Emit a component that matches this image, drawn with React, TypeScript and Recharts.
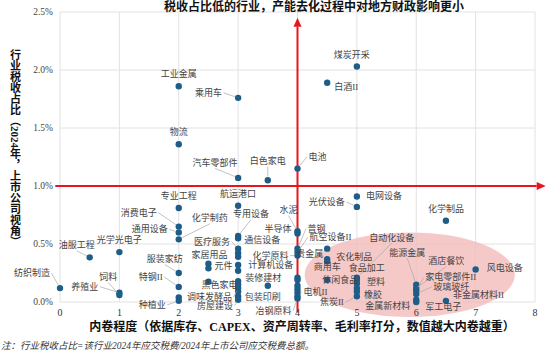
import React from 'react';
import { ScatterChart, Scatter, XAxis, YAxis, CartesianGrid, ReferenceLine, ReferenceArea } from 'recharts';

const industries = [
  '煤炭开采', '白酒II', '工业金属', '乘用车', '物流', '电池', '汽车零部件', '白色家电', '电网设备', '航运港口',
  '光伏设备', '专业工程', '化学制品', '消费电子', '水泥', '通用设备', '半导体', '专用设备', '通信设备', '化学制药',
  '医疗服务', '普钢', '贵金属', '航空设备II', '光学光电子', '化学原料', '', '', '油服工程', '农化制品',
  '商用车', '家居用品', '计算机设备', '元件', '', '风电设备', '服装家纺', '', '自动化设备', '',
  '休闲食品', '食品加工', '装修建材', '黑色家电', '塑料', '', '能源金属', '包装印刷', '', '特钢II',
  '调味发酵品', '纺织制造', '酒店餐饮', '', '电机II', '家电零部件II', '橡胶', '', '', '养殖业',
  '玻璃玻纤', '饲料', '焦炭II', '', '', '', '冶钢原料', '房屋建设', '军工电子', '种植业',
  '非金属材料II', '金属新材料',
];

const involutionScores = [
  5.0, 4.5, 2.0, 3.0, 2.0, 4.0, 3.0, 3.5, 5.0, 3.0,
  5.0, 2.0, 6.5, 2.0, 4.0, 2.0, 4.0, 3.0, 3.0, 2.0,
  3.0, 4.0, 4.5, 4.0, 1.0, 4.0, 3.0, 3.0, 0.5, 4.5,
  4.5, 2.5, 3.0, 2.5, 3.0, 7.0, 2.0, 4.0, 5.0, 4.0,
  4.5, 5.0, 3.0, 2.5, 5.0, 3.0, 6.0, 3.5, 4.0, 2.0,
  3.0, 0.0, 6.0, 5.0, 4.0, 6.0, 5.0, 3.0, 4.0, 1.0,
  6.0, 1.0, 5.0, 3.0, 4.0, 2.0, 4.0, 3.0, 6.0, 2.0,
  6.5, 6.0,
];

const taxShares = [
  2.03, 1.89, 1.86, 1.76, 1.36, 1.15, 1.07, 1.05, 0.91, 0.83,
  0.82, 0.81, 0.70, 0.65, 0.61, 0.60, 0.59, 0.57, 0.55, 0.54,
  0.46, 0.46, 0.46, 0.43, 0.43, 0.40, 0.42, 0.39, 0.385, 0.37,
  0.35, 0.33, 0.32, 0.29, 0.27, 0.28, 0.25, 0.21, 0.21, 0.19,
  0.19, 0.19, 0.18, 0.175, 0.16, 0.15, 0.15, 0.14, 0.14, 0.13,
  0.12, 0.12, 0.12, 0.12, 0.11, 0.10, 0.09, 0.09, 0.08, 0.08,
  0.07, 0.06, 0.05, 0.05, 0.05, 0.04, 0.03, 0.02, 0.02, 0.01,
  0.01, 0.0,
];

const xTicks = [0, 1, 2, 3, 4, 5, 6, 7, 8];
const yTicks = [0, 0.5, 1.0, 1.5, 2.0, 2.5];

const title = '税收占比低的行业，产能去化过程中对地方财政影响更小';
const yAxisTitle = '行业税收占比（2024年，上市公司视角）';
const xAxisTitle = '内卷程度（依据库存、CAPEX、资产周转率、毛利率打分，数值越大内卷越重）';
const footnote = '注：行业税收占比=该行业2024年应交税费/2024年上市公司应交税费总额。';

// label placement: [anchor, dx, dy, leader]
type Anchor = 'start' | 'middle' | 'end';
const labelLayout: Record<string, [Anchor, number, number, boolean]> = {
  '煤炭开采': ['middle', -5, -12, false],
  '白酒II': ['start', 7, 4, false],
  '工业金属': ['middle', 0, -12, false],
  '乘用车': ['end', -16, -5, true],
  '物流': ['middle', 0, -12, false],
  '电池': ['start', 11, -12, true],
  '汽车零部件': ['middle', -23, -15, true],
  '白色家电': ['middle', 0, -19, true],
  '航运港口': ['middle', 0, -12, false],
  '专业工程': ['middle', 0, -12, false],
  '电网设备': ['start', 9, 0, false],
  '光伏设备': ['end', -12, -5, true],
  '化学制品': ['middle', 0, -12, false],
  '水泥': ['middle', -9, -21, true],
  '半导体': ['end', -6, -5, false],
  '普钢': ['start', 10, -20, true],
  '航空设备II': ['start', 12, -15, true],
  '化学原料': ['end', -9, 0, true],
  '计算机设备': ['start', 10, 0, false],
  '通信设备': ['start', 6, 2, false],
  '专用设备': ['middle', 13, -22, true],
  '医疗服务': ['end', -8, -7, true],
  '家居用品': ['middle', 1, -9, false],
  '元件': ['start', 6, -2, false],
  '黑色家电': ['middle', 11, 3, false],
  '调味发酵品': ['end', -6, 9, true],
  '房屋建设': ['end', -5, 6, true],
  '装修建材': ['start', 7, -3, false],
  '包装印刷': ['middle', -5, 11, false],
  '冶钢原料': ['end', -6, 12, true],
  '种植业': ['end', -13, 4, true],
  '特钢II': ['end', -16, -10, true],
  '服装家纺': ['middle', -14, -14, true],
  '消费电子': ['end', -22, -14, true],
  '通用设备': ['end', -11, -3, true],
  '化学制药': ['middle', 31, -21, true],
  '光学光电子': ['middle', 0, -12, false],
  '油服工程': ['middle', -13, -12, true],
  '纺织制造': ['end', -10, -15, true],
  '养殖业': ['end', -21, -6, true],
  '饲料': ['middle', -11, -18, true],
  '电机II': ['start', 6, 3, true],
  '贵金属': ['end', -4, 5, false],
  '农化制品': ['start', 9, -2, false],
  '商用车': ['middle', 0, 6, false],
  '休闲食品': ['middle', 13, 0, false],
  '焦炭II': ['end', -13, 6, true],
  '自动化设备': ['middle', 35, -40, true],
  '食品加工': ['middle', 10, -12, false],
  '塑料': ['start', 10, -1, false],
  '橡胶': ['start', 7, 3, false],
  '金属新材料': ['end', -6, 4, false],
  '能源金属': ['middle', -9, -32, true],
  '酒店餐饮': ['middle', 30, -27, true],
  '家电零部件II': ['start', 9, -13, true],
  '玻璃玻纤': ['start', 17, -7, true],
  '非金属材料II': ['start', 7, -6, false],
  '军工电子': ['start', 9, 7, false],
  '风电设备': ['start', 11, -2, false],
};

const data = industries.map((name, i) => ({ name, x: involutionScores[i], y: taxShares[i] }));

const FONT = '"Liberation Serif", "Noto Sans CJK SC", serif';
const DOT = '#1d5d88';
const RED = '#e8161c';

const DotShape = (p: any) => {
  if (p.cx == null || p.cy == null) return <g />;
  return <circle cx={p.cx} cy={p.cy} r={3.2} fill={DOT} />;
};

const LabelShape = (p: any) => {
  const name = p.payload?.name;
  const l = name ? labelLayout[name] : undefined;
  if (!l || p.cx == null) return <g />;
  const [anchor, dx, dy, leader] = l;
  const tx = p.cx + dx;
  const ty = p.cy + dy;
  let ex = tx;
  let ey = ty;
  if (anchor === 'end') ex = tx + 1.5;
  else if (anchor === 'start') ex = tx - 1.5;
  else ey = dy < 0 ? ty + 5.5 : ty - 5.5;
  const len = Math.hypot(ex - p.cx, ey - p.cy);
  const sx = len > 0 ? p.cx + ((ex - p.cx) / len) * 3.5 : p.cx;
  const sy = len > 0 ? p.cy + ((ey - p.cy) / len) * 3.5 : p.cy;
  return (
    <g>
      {leader && len > 4 ? <line x1={sx} y1={sy} x2={ex} y2={ey} stroke="#a8a8a8" strokeWidth={0.7} /> : null}
      <text x={tx} y={ty} textAnchor={anchor} dominantBaseline="central" fontSize={9} fontFamily={FONT} fill="#444">
        {name}
      </text>
    </g>
  );
};

const ArrowShape = (p: any) => {
  const { x1, y1, x2, y2 } = p;
  if ([x1, y1, x2, y2].some((v) => v == null || Number.isNaN(v))) return <g />;
  const ang = Math.atan2(y2 - y1, x2 - x1);
  const L = 9;
  const W = 4;
  const c = Math.cos(ang);
  const s = Math.sin(ang);
  const bx = x2 - L * c;
  const by = y2 - L * s;
  return (
    <g>
      <line x1={x1} y1={y1} x2={bx} y2={by} stroke={RED} strokeWidth={2} />
      <polygon points={`${x2},${y2} ${bx + W * s},${by - W * c} ${bx - W * s},${by + W * c}`} fill={RED} />
    </g>
  );
};

const EllipseShape = (p: any) => {
  const { x, y, width, height } = p;
  if ([x, y, width, height].some((v) => v == null || Number.isNaN(v))) return <g />;
  return (
    <ellipse
      cx={x + width / 2}
      cy={y + height / 2}
      rx={Math.abs(width) / 2}
      ry={Math.abs(height) / 2}
      fill="#f4bcbc"
      fillOpacity={0.8}
    />
  );
};

export default function App() {
  return (
    <div style={{ position: 'absolute', left: 0, top: 0, width: 550, height: 355, fontFamily: FONT, background: '#fff' }}>
      <ScatterChart width={550} height={355} margin={{ top: 12, right: 15, bottom: 0, left: 0 }}>
        <CartesianGrid stroke="#e2e2e2" strokeWidth={1} />
        <ReferenceArea x1={4.12} x2={7.66} y1={-0.13} y2={0.6} ifOverflow="visible" shape={EllipseShape} />
        <XAxis
          type="number"
          dataKey="x"
          domain={[0, 8]}
          ticks={xTicks}
          interval={0}
          axisLine={false}
          tickLine={false}
          tickSize={4}
          tickMargin={3}
          height={53}
          tick={{ fontSize: 10, fill: '#333', fontFamily: FONT }}
        />
        <YAxis
          type="number"
          dataKey="y"
          domain={[0, 2.5]}
          ticks={yTicks}
          interval={0}
          axisLine={false}
          tickLine={false}
          tickSize={5}
          tickMargin={2}
          width={60}
          tickFormatter={(v: number) => `${v.toFixed(1)}%`}
          tick={{ fontSize: 9.5, fill: '#444', fontFamily: FONT }}
        />
        <ReferenceLine segment={[{ x: 4, y: -0.09 }, { x: 4, y: 2.45 }]} ifOverflow="visible" shape={ArrowShape} />
        <ReferenceLine segment={[{ x: -0.08, y: 1 }, { x: 8.18, y: 1 }]} ifOverflow="visible" shape={ArrowShape} />
        <Scatter data={data} shape={DotShape} isAnimationActive={false} />
        <Scatter data={data} shape={LabelShape} isAnimationActive={false} />
      </ScatterChart>
      <div style={{ position: 'absolute', left: 314, top: 7, transform: 'translate(-50%, -50%)', whiteSpace: 'nowrap', fontSize: 12, fontWeight: 'bold', color: '#111', lineHeight: '14px' }}>
        {title}
      </div>
      <div style={{ position: 'absolute', left: 14, top: 148, transform: 'translate(-50%, -50%)', writingMode: 'vertical-rl', whiteSpace: 'nowrap', fontSize: 11, fontWeight: 'bold', color: '#111', lineHeight: '13px' }}>
        {yAxisTitle}
      </div>
      <div style={{ position: 'absolute', left: 302, top: 327, transform: 'translate(-50%, -50%)', whiteSpace: 'nowrap', fontSize: 12, fontWeight: 'bold', color: '#111', lineHeight: '14px' }}>
        {xAxisTitle}
      </div>
      <div style={{ position: 'absolute', left: 1, top: 346, transform: 'translateY(-50%)', whiteSpace: 'nowrap', fontSize: 9.5, fontStyle: 'italic', color: '#333', lineHeight: '12px' }}>
        {footnote}
      </div>
    </div>
  );
}
